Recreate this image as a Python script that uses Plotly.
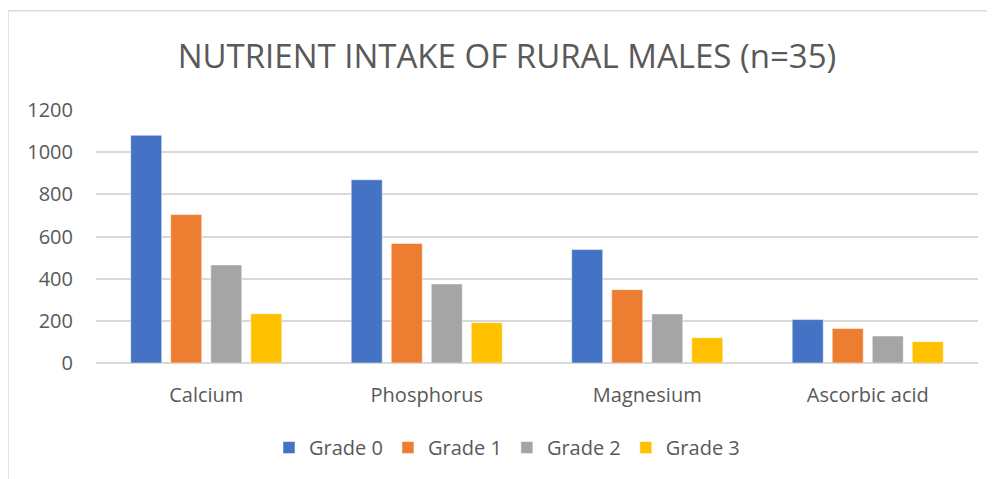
import plotly.graph_objects as go

categories = ["Calcium", "Phosphorus", "Magnesium", "Ascorbic acid"]
series_names = ["Grade 0", "Grade 1", "Grade 2", "Grade 3"]
grade0 = [1080, 869, 538, 206]
grade1 = [704, 567, 348, 164]
grade2 = [465, 375, 233, 128]
grade3 = [234, 191, 120, 101]
y_ticks = [0, 200, 400, 600, 800, 1000, 1200]
colors = ["#4472C4", "#ED7D31", "#A5A5A5", "#FFC000"]

FONT = "Open Sans"
TXT = "#595959"
GRID = "#D9D9D9"

fig = go.Figure()
for name, vals, col in zip(series_names, [grade0, grade1, grade2, grade3], colors):
    fig.add_trace(go.Bar(x=categories, y=vals, name=name, marker_color=col,
                         marker_line=dict(color="white", width=0.5)))

OFF = 8  # page body margin
W, H = 995 - OFF, 479 - OFF
L, R, T = 96 - OFF, 17, 110 - OFF
B = H - (362.6 - OFF)
pw, ph = W - L - R, H - T - B


def px(x):
    return (x - OFF - L) / pw


def py(y):
    return (ph - (y - OFF - T)) / ph


fig.update_layout(
    width=W, height=H,
    margin=dict(l=L, r=R, t=T, b=B, autoexpand=False),
    paper_bgcolor="white", plot_bgcolor="white",
    barmode="group", bargap=0.274, bargroupgap=0.225,
    font=dict(family=FONT, color=TXT, size=20),
    title=dict(text="NUTRIENT INTAKE OF RURAL MALES (n=35)", x=(507 - OFF) / W, xanchor="center",
               y=1 - (56 - OFF) / H, yanchor="middle",
               font=dict(family=FONT, size=33, color=TXT)),
    legend=dict(orientation="h", x=px(507), xanchor="center",
                y=py(447), yanchor="middle",
                font=dict(size=20, color=TXT), bgcolor="rgba(0,0,0,0)"),
    xaxis=dict(showgrid=False, showline=False, ticks="", tickfont=dict(size=20, color=TXT),
               ticklabelstandoff=18, fixedrange=True),
    yaxis=dict(range=[0, 1200], tickvals=y_ticks, showgrid=True, gridcolor=GRID, gridwidth=1.5,
               zeroline=True, zerolinecolor=GRID, zerolinewidth=1.5, showline=False, ticks="",
               tickfont=dict(size=20, color=TXT), ticklabelstandoff=22),
    shapes=[dict(type="rect", xref="paper", yref="paper",
                 x0=px(8), x1=px(1010),
                 y0=py(500), y1=py(11),
                 line=dict(color=GRID, width=1.5), fillcolor="rgba(0,0,0,0)", layer="below")],
)

fig.write_html("out.html")
